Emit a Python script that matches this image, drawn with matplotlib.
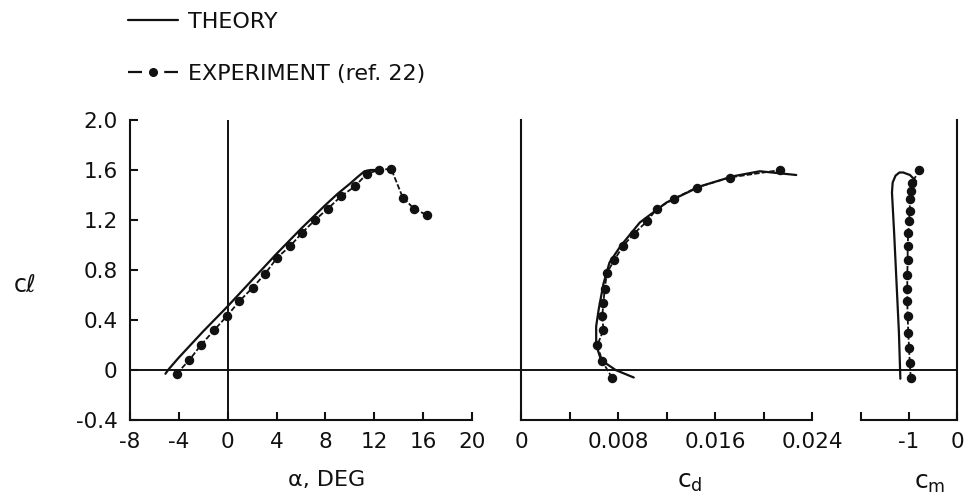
import matplotlib
matplotlib.use("Agg")
import matplotlib.pyplot as plt
from matplotlib.lines import Line2D

plt.rcParams.update({
    "font.family": "DejaVu Sans",
    "font.size": 15,
    "axes.unicode_minus": False,
})

INK = "#111111"
W, H = 969, 503

# lift curve, cl vs alpha
alpha_theory = [-5.1, -4.8, -4.0, -2.0, 0.0, 2.0, 4.0, 6.0, 8.0, 9.0, 10.0, 10.7, 11.2, 11.7, 12.2]
cl_theory_a = [-0.03, 0.01, 0.10, 0.31, 0.51, 0.72, 0.93, 1.13, 1.32, 1.41, 1.49, 1.55, 1.59, 1.60, 1.60]
alpha_exp = [-4.18, -3.14, -2.19, -1.10, -0.08, 0.95, 2.05, 3.06, 4.06, 5.10, 6.11,
             7.15, 8.19, 9.28, 10.43, 11.39, 12.39, 13.38, 14.33, 15.26, 16.30]
cl_exp_a = [-0.03, 0.08, 0.20, 0.32, 0.43, 0.55, 0.66, 0.77, 0.90, 0.99, 1.10,
            1.20, 1.29, 1.39, 1.47, 1.57, 1.60, 1.61, 1.38, 1.29, 1.24]

# drag polar, cl vs cd
cd_theory = [0.0093, 0.0078, 0.0066, 0.0062, 0.0062, 0.0064, 0.0068, 0.0073, 0.0082,
             0.0098, 0.0120, 0.0148, 0.0175, 0.0197, 0.0227]
cl_theory_d = [-0.06, 0.00, 0.08, 0.20, 0.35, 0.48, 0.69, 0.86, 0.99,
               1.18, 1.34, 1.47, 1.55, 1.59, 1.56]
cd_exp = [0.0075, 0.0067, 0.0063, 0.0068, 0.0067, 0.0068, 0.0069, 0.0071, 0.0077,
          0.0084, 0.0093, 0.0104, 0.0112, 0.0126, 0.0145, 0.0172, 0.0214]
cl_exp_d = [-0.06, 0.07, 0.20, 0.32, 0.43, 0.54, 0.65, 0.78, 0.88,
            0.99, 1.09, 1.19, 1.29, 1.37, 1.46, 1.54, 1.60]

# moment, cl vs cm
cm_theory = [-0.118, -0.121, -0.126, -0.131, -0.1355, -0.134, -0.128, -0.120, -0.112, -0.098, -0.085]
cl_theory_m = [-0.07, 0.30, 0.70, 1.10, 1.42, 1.50, 1.555, 1.58, 1.58, 1.56, 1.51]
cm_exp = [-0.0964, -0.0985, -0.1, -0.1015, -0.1028, -0.1036, -0.1036, -0.1036, -0.1028,
          -0.1028, -0.1015, -0.1, -0.0985, -0.0979, -0.0964, -0.093, -0.0787]
cl_exp_m = [-0.06, 0.06, 0.18, 0.30, 0.43, 0.55, 0.65, 0.76, 0.88,
            0.99, 1.10, 1.19, 1.27, 1.37, 1.43, 1.50, 1.60]

alpha_ticks = [-8, -4, 0, 4, 8, 12, 16, 20]
cl_ticks = [-0.4, 0, 0.4, 0.8, 1.2, 1.6, 2.0]
cl_ticklabels = ["-0.4", "0", "0.4", "0.8", "1.2", "1.6", "2.0"]
cd_ticks = [0, 0.004, 0.008, 0.012, 0.016, 0.020, 0.024]
cd_ticklabels = ["0", "", "0.008", "", "0.016", "", "0.024"]
cm_ticks = [-0.2, -0.1, 0]
cm_ticklabels = ["", "-1", "0"]


def box(x0, x1, y0=420, y1=120):
    return [x0 / W, 1 - y0 / H, (x1 - x0) / W, (y0 - y1) / H]


fig = plt.figure(figsize=(W / 100, H / 100), dpi=100)
ax1 = fig.add_axes(box(130, 472))
ax2 = fig.add_axes(box(521, 812), sharey=ax1)
ax3 = fig.add_axes(box(861, 957), sharey=ax1)

theory_kw = dict(color=INK, lw=1.6, solid_capstyle="round")
exp_kw = dict(color=INK, lw=1.3, ls=(0, (3, 1.2)), marker="o", ms=5.8, mfc=INK, mec=INK)

ax1.plot(alpha_theory, cl_theory_a, **theory_kw)
ax1.plot(alpha_exp, cl_exp_a, **exp_kw)
ax2.plot(cd_theory, cl_theory_d, **theory_kw)
ax2.plot(cd_exp, cl_exp_d, **exp_kw)
ax3.plot(cm_theory, cl_theory_m, **theory_kw)
ax3.plot(cm_exp, cl_exp_m, **exp_kw)

ax1.set_xlim(-8, 20)
ax1.set_ylim(-0.4, 2.0)
ax2.set_xlim(0, 0.024)
ax3.set_xlim(-0.2, 0)

# zero lines
ax1.axvline(0, color=INK, lw=1.4)
ax1.axhline(0, xmin=0, xmax=(957 - 130) / (472 - 130), color=INK, lw=1.4, clip_on=False)

for ax in (ax1, ax2, ax3):
    ax.patch.set_visible(False)
    for s in ax.spines.values():
        s.set_color(INK)
        s.set_linewidth(1.5)
    ax.spines["top"].set_visible(False)
    ax.tick_params(direction="in", length=6, width=1.5, color=INK,
                   labelsize=15.5, labelcolor=INK, pad=9)

ax1.spines["right"].set_visible(False)
ax1.set_xticks(alpha_ticks)
ax1.set_yticks(cl_ticks)
ax1.set_yticklabels(cl_ticklabels)

ax2.spines["right"].set_visible(False)
ax2.set_xticks(cd_ticks)
ax2.set_xticklabels(cd_ticklabels)
ax2.tick_params(axis="y", left=False, labelleft=False)

ax3.spines["left"].set_visible(False)
ax3.set_xticks(cm_ticks)
ax3.set_xticklabels(cm_ticklabels)
ax3.tick_params(axis="y", left=False, labelleft=False)

# axis titles
fig.text(327 / W, 1 - 480 / H, "α, DEG", ha="center", va="center", fontsize=16, color=INK)
fig.text(25 / W, 1 - 285 / H, "cℓ", ha="center", va="center", fontsize=17, color=INK)
fig.text(690 / W, 1 - 482 / H, r"$\mathregular{c_d}$", ha="center", va="center", fontsize=18, color=INK)
fig.text(930 / W, 1 - 483 / H, r"$\mathregular{c_m}$", ha="center", va="center", fontsize=18, color=INK)

# legend
handles = [Line2D([], [], **theory_kw),
           Line2D([], [], color=INK, lw=1.6, ls=(0, (6.3, 10)), marker="o", ms=5.5, mfc=INK, mec=INK)]
fig.legend(handles, ["THEORY", "EXPERIMENT (ref. 22)"], loc="upper left",
           bbox_to_anchor=(119 / W, 1 - 3 / H), frameon=False, handlelength=2.25,
           handletextpad=0.45, labelspacing=1.45, fontsize=16, labelcolor=INK,
           borderpad=0.4, borderaxespad=0)

fig.savefig("out.png", dpi=100, facecolor="white")
